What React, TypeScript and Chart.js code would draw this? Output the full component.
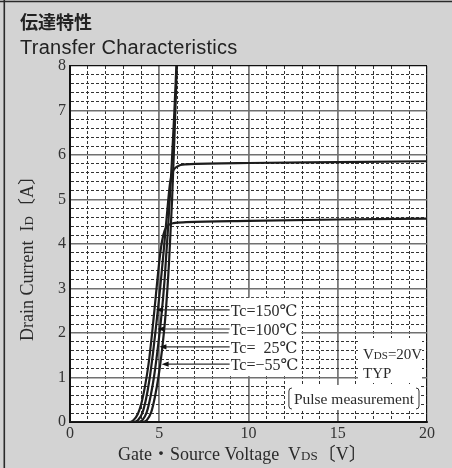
import React, { useEffect, useRef } from "react";
import { Chart, registerables } from "chart.js";

Chart.register(...registerables);

// Gate-source voltage (V) and drain current (A)
const tc150Vgs = [0, 3.3, 3.55, 3.8, 4.0, 4.2, 4.4, 4.6, 4.8, 5.0, 5.15, 5.3, 5.5, 5.8, 6.5, 10, 15, 20];
const tc150Id = [0, 0, 0.04, 0.18, 0.42, 0.8, 1.3, 2.0, 2.8, 3.6, 4.05, 4.3, 4.42, 4.47, 4.49, 4.52, 4.55, 4.57];
const tc100Vgs = [0, 3.55, 3.8, 4.05, 4.25, 4.45, 4.65, 4.85, 5.05, 5.25, 5.45, 5.6, 5.75, 6.0, 6.5, 10, 15, 20];
const tc100Id = [0, 0, 0.04, 0.2, 0.5, 0.95, 1.55, 2.25, 3.0, 3.85, 4.75, 5.35, 5.62, 5.74, 5.79, 5.82, 5.84, 5.86];
const tc25Vgs = [0, 3.8, 4.05, 4.3, 4.5, 4.7, 4.9, 5.1, 5.3, 5.5, 5.7, 5.85, 5.97, 6.1];
const tc25Id = [0, 0, 0.04, 0.22, 0.55, 1.0, 1.6, 2.3, 3.2, 4.4, 5.8, 7.0, 8.1, 9.2];
const tcm55Vgs = [0, 4.05, 4.3, 4.55, 4.75, 4.95, 5.15, 5.35, 5.55, 5.72, 5.87, 6.0, 6.1];
const tcm55Id = [0, 0, 0.04, 0.22, 0.55, 1.0, 1.6, 2.4, 3.6, 5.0, 6.6, 8.2, 9.3];

const curveVgs = [tc150Vgs, tc100Vgs, tc25Vgs, tcm55Vgs];
const curveId = [tc150Id, tc100Id, tc25Id, tcm55Id];
const curveNames = ["Tc=150℃", "Tc=100℃", "Tc=  25℃", "Tc=−55℃"];
// current (A) at which each label's leader arrow meets its curve
const labelId = [2.52, 2.09, 1.69, 1.3];

const xMin = 0;
const xMax = 20;
const yMin = 0;
const yMax = 8;

const titleJa = "伝達特性";
const titleEn = "Transfer Characteristics";

const SERIF = '"Liberation Serif", "DejaVu Serif", "Noto Sans CJK JP", serif';

type Seg = { text: string; size: number };

function richWidth(ctx: CanvasRenderingContext2D, segs: Seg[]) {
  let w = 0;
  for (const s of segs) {
    ctx.font = `${s.size}px ${SERIF}`;
    w += ctx.measureText(s.text).width;
  }
  return w;
}
function drawRich(ctx: CanvasRenderingContext2D, segs: Seg[], x: number, y: number) {
  let cx = x;
  for (const s of segs) {
    ctx.font = `${s.size}px ${SERIF}`;
    ctx.fillText(s.text, cx, y);
    cx += ctx.measureText(s.text).width;
  }
}

function xAtY(xs: number[], ys: number[], yt: number) {
  for (let i = 0; i < ys.length - 1; i++) {
    if (ys[i] <= yt && ys[i + 1] >= yt && ys[i + 1] > ys[i]) {
      const t = (yt - ys[i]) / (ys[i + 1] - ys[i]);
      return xs[i] + t * (xs[i + 1] - xs[i]);
    }
  }
  return xs[xs.length - 1];
}

const isInt = (v: number) => Math.abs(v - Math.round(v)) < 1e-6;
const near = (a: number, b: number) => Math.abs(a - b) < 1e-6;

const decorPlugin = {
  id: "decor",
  beforeDraw(chart: any) {
    const { ctx, chartArea: ca, width, height } = chart;
    ctx.save();
    ctx.fillStyle = "#d3d3d3";
    ctx.fillRect(0, 0, width, height);
    ctx.fillStyle = "#ffffff";
    ctx.fillRect(ca.left, ca.top, ca.right - ca.left, ca.bottom - ca.top);
    ctx.strokeStyle = "#2a2a2a";
    ctx.lineWidth = 1.6;
    ctx.beginPath();
    ctx.moveTo(0, 1.5);
    ctx.lineTo(width, 1.5);
    ctx.moveTo(4.3, 0);
    ctx.lineTo(4.3, height);
    ctx.stroke();
    ctx.fillStyle = "#222";
    ctx.textBaseline = "alphabetic";
    ctx.font = 'bold 18px "Noto Sans CJK JP", sans-serif';
    ctx.fillText(titleJa, 20, 29);
    ctx.font = '20px "Liberation Sans", Arial, sans-serif';
    try {
      (ctx as any).letterSpacing = "0.25px";
    } catch (e) {}
    ctx.fillText(titleEn, 20, 54);
    try {
      (ctx as any).letterSpacing = "0px";
    } catch (e) {}
    ctx.restore();
  },
  afterDatasetsDraw(chart: any) {
    const { ctx, chartArea: ca } = chart;
    const xs = chart.scales.x;
    const ys = chart.scales.y;
    ctx.save();
    ctx.textBaseline = "alphabetic";
    // temperature labels
    const textLeft = xs.getPixelForValue(9.0);
    ctx.font = `16px ${SERIF}`;
    let maxW = 0;
    for (const n of curveNames) maxW = Math.max(maxW, ctx.measureText(n).width);
    const yTop = ys.getPixelForValue(labelId[0]) - 12;
    const yBot = ys.getPixelForValue(labelId[labelId.length - 1]) + 12;
    ctx.fillStyle = "#fff";
    ctx.fillRect(textLeft - 2, yTop, maxW + 5, yBot - yTop);
    for (let i = 0; i < curveNames.length; i++) {
      const py = ys.getPixelForValue(labelId[i]);
      const tip = xs.getPixelForValue(xAtY(curveVgs[i], curveId[i], labelId[i])) + 1.5;
      ctx.strokeStyle = "#333";
      ctx.lineWidth = 1.2;
      ctx.beginPath();
      ctx.moveTo(tip + 4, py);
      ctx.lineTo(textLeft - 1, py);
      ctx.stroke();
      ctx.fillStyle = "#111";
      ctx.beginPath();
      ctx.moveTo(tip, py);
      ctx.lineTo(tip + 7, py - 2.6);
      ctx.lineTo(tip + 7, py + 2.6);
      ctx.closePath();
      ctx.fill();
      ctx.fillStyle = "#2a2a2a";
      ctx.font = `16px ${SERIF}`;
      ctx.fillText(curveNames[i], textLeft, py + 6);
    }
    // VDS / TYP box
    ctx.fillStyle = "#fff";
    ctx.fillRect(ca.right - 69, 338, 64, 45);
    ctx.fillStyle = "#2a2a2a";
    drawRich(ctx, [{ text: "V", size: 15 }, { text: "DS", size: 11 }, { text: "=20V", size: 15 }], ca.right - 64, 359);
    drawRich(ctx, [{ text: "TYP", size: 15 }], ca.right - 64, 378);
    // pulse measurement box
    ctx.fillStyle = "#fff";
    ctx.fillRect(ca.right - 142, 385, 136, 25);
    ctx.fillStyle = "#2a2a2a";
    ctx.font = `15.5px ${SERIF}`;
    const pt = "Pulse measurement";
    const pw = ctx.measureText(pt).width;
    const pr = ca.right - 13;
    const pl = pr - pw;
    ctx.fillText(pt, pl, 404);
    ctx.strokeStyle = "#333";
    ctx.lineWidth = 1;
    ctx.beginPath();
    ctx.moveTo(pl - 2, 388);
    ctx.quadraticCurveTo(pl - 5, 388, pl - 5, 391);
    ctx.lineTo(pl - 5, 406);
    ctx.quadraticCurveTo(pl - 5, 409, pl - 2, 409);
    ctx.moveTo(pr + 2, 388);
    ctx.quadraticCurveTo(pr + 5, 388, pr + 5, 391);
    ctx.lineTo(pr + 5, 406);
    ctx.quadraticCurveTo(pr + 5, 409, pr + 2, 409);
    ctx.stroke();
    ctx.restore();
  },
  afterDraw(chart: any) {
    const { ctx, chartArea: ca } = chart;
    ctx.save();
    ctx.fillStyle = "#2a2a2a";
    ctx.textBaseline = "alphabetic";
    const xt: Seg[] = [
      { text: "Gate・Source Voltage  V", size: 18 },
      { text: "DS", size: 13 },
      { text: "〔V〕", size: 18 },
    ];
    drawRich(ctx, xt, ca.left + 48, 460);
    const yt: Seg[] = [
      { text: "Drain Current  I", size: 18 },
      { text: "D", size: 13 },
      { text: "〔A〕", size: 18 },
    ];
    const yw = richWidth(ctx, yt);
    ctx.translate(33, 254);
    ctx.rotate(-Math.PI / 2);
    drawRich(ctx, yt, -yw / 2, 0);
    ctx.restore();
  },
};

export default function App() {
  const ref = useRef<HTMLCanvasElement | null>(null);
  useEffect(() => {
    if (!ref.current) return;
    const datasets = curveVgs.map((xsArr, k) => ({
      label: curveNames[k],
      data: xsArr.map((x, i) => ({ x, y: curveId[k][i] })),
      borderColor: "#1c1c1c",
      borderWidth: 2.2,
      pointRadius: 0,
      cubicInterpolationMode: "monotone" as const,
      fill: false,
    }));
    const chart = new Chart(ref.current, {
      type: "line",
      data: { datasets },
      plugins: [decorPlugin],
      options: {
        responsive: false,
        animation: false,
        devicePixelRatio: 1,
        layout: { padding: { left: 0, top: 66, right: 25, bottom: 0 } },
        plugins: { legend: { display: false }, tooltip: { enabled: false }, title: { display: false } },
        scales: {
          x: {
            type: "linear",
            min: xMin,
            max: xMax,
            afterFit: (s: any) => {
              s.height = 46;
            },
            ticks: {
              stepSize: 1,
              autoSkip: false,
              maxRotation: 0,
              padding: 2,
              color: "#333",
              font: { family: SERIF, size: 16 },
              callback: (v: any) => (Number(v) % 5 === 0 ? String(v) : ""),
            },
            grid: {
              drawTicks: false,
              color: (c: any) => {
                const v = c.tick ? c.tick.value : 0;
                if (v === xMin || v === xMax) return "#111";
                return v % 5 === 0 ? "#7a7a7a" : "#333";
              },
              lineWidth: (c: any) => {
                const v = c.tick ? c.tick.value : 0;
                if (v === xMax) return 1.2;
                return v % 5 === 0 ? 1.8 : 1;
              },
            },
            border: {
              display: true,
              color: "#111",
              width: 2,
              dash: (c: any) => (c.tick && c.tick.value % 5 !== 0 ? [3, 2] : []),
            },
          },
          y: {
            type: "linear",
            min: yMin,
            max: yMax,
            afterFit: (s: any) => {
              s.width = 70;
            },
            ticks: {
              stepSize: 0.2,
              maxTicksLimit: 100,
              autoSkip: false,
              padding: 4,
              color: "#333",
              font: { family: SERIF, size: 16 },
              callback: (v: any) => (isInt(Number(v)) ? String(Math.round(Number(v))) : ""),
            },
            grid: {
              drawTicks: false,
              color: (c: any) => {
                const v = c.tick ? c.tick.value : 0;
                if (near(v, yMax) || near(v, yMin)) return "#111";
                return isInt(v) ? "#707070" : "#333";
              },
              lineWidth: (c: any) => {
                const v = c.tick ? c.tick.value : 0;
                if (near(v, yMax)) return 1.2;
                return isInt(v) ? 1.6 : 1;
              },
            },
            border: {
              display: true,
              color: "#111",
              width: 2,
              dash: (c: any) => (c.tick && !isInt(c.tick.value) ? [3, 2] : []),
            },
          },
        },
      },
    } as any);
    return () => chart.destroy();
  }, []);
  return (
    <div style={{ position: "absolute", left: 0, top: 0, width: 452, height: 468 }}>
      <canvas ref={ref} width={452} height={468} style={{ display: "block" }} />
    </div>
  );
}
